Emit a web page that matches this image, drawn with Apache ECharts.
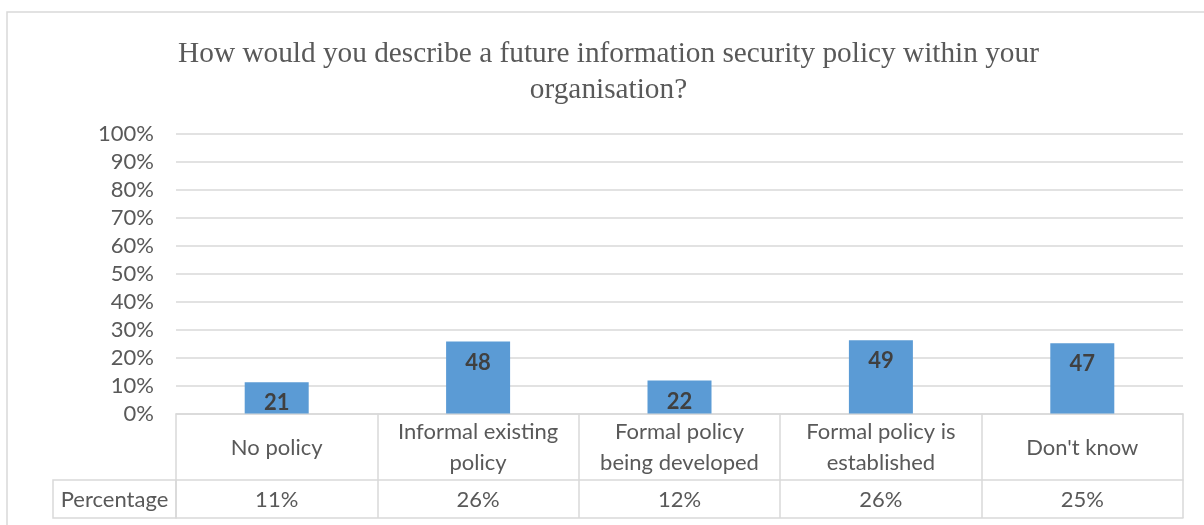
<!DOCTYPE html>
<html>
<head>
<meta charset="utf-8">
<script src="https://cdn.jsdelivr.net/npm/echarts@6/dist/echarts.min.js"></script>
<style>
html,body{margin:0;padding:0;background:#fff;}
#chart{width:1204px;height:525px;}
</style>
</head>
<body>
<div id="chart"></div>
<script>
const titleText = 'How would you describe a future information security policy within your\norganisation?';
const categories = ['No policy', 'Informal existing\npolicy', 'Formal policy\nbeing developed', 'Formal policy is\nestablished', "Don't know"];
const barValues = [11.2, 25.7, 11.8, 26.2, 25.1];
const counts = [21, 48, 22, 49, 47];
const tableLabels = ['11%', '26%', '12%', '26%', '25%'];
const rowHeader = 'Percentage';
const yTicks = [0, 10, 20, 30, 40, 50, 60, 70, 80, 90, 100];

const FONT = 'Lato, "Open Sans", sans-serif';
const GRID_L = 176, GRID_R = 21, GRID_T = 133.5, GRID_B = 111.5;
const ROW1 = 66.5, ROW2 = 38;
const LINE = '#d9d9d9';
const H = 525;
const axisBottom = H - GRID_B;

const chart = echarts.init(document.getElementById('chart'), null, {renderer: 'canvas'});
chart.setOption({
  animation: false,
  backgroundColor: '#fff',
  title: {
    text: titleText,
    left: 603.5, top: 31, textAlign: 'center',
    textStyle: {fontFamily: '"Liberation Serif", "Times New Roman", serif', fontSize: 29.3, fontWeight: 'normal', color: '#595959', lineHeight: 36}
  },
  grid: {left: GRID_L, right: GRID_R, top: GRID_T, bottom: GRID_B, containLabel: false},
  xAxis: [
    {
      type: 'category', data: categories, position: 'bottom',
      axisLine: {show: true, lineStyle: {color: LINE, width: 1.5}},
      axisTick: {show: true, length: ROW1 + ROW2, lineStyle: {color: LINE, width: 1.5}},
      axisLabel: {interval: 0, margin: 34, verticalAlign: 'middle', fontFamily: FONT, fontSize: 22, color: '#595959', lineHeight: 31}
    },
    {
      type: 'category', data: tableLabels, position: 'bottom', offset: ROW1,
      axisLine: {show: true, lineStyle: {color: LINE, width: 1.5}},
      axisTick: {show: false},
      axisLabel: {interval: 0, margin: 20, verticalAlign: 'middle', fontFamily: FONT, fontSize: 22, color: '#595959'}
    },
    {
      type: 'category', data: tableLabels, position: 'bottom', offset: ROW1 + ROW2,
      axisLine: {show: true, lineStyle: {color: LINE, width: 1.5}},
      axisTick: {show: false}, axisLabel: {show: false}
    }
  ],
  yAxis: {
    type: 'value', min: yTicks[0], max: yTicks[yTicks.length - 1], interval: yTicks[1] - yTicks[0],
    axisLine: {show: false}, axisTick: {show: false},
    axisLabel: {formatter: '{value}%', margin: 22, fontFamily: FONT, fontSize: 22, color: '#595959'},
    splitLine: {lineStyle: {color: LINE, width: 1.5}}
  },
  series: [{
    type: 'bar', xAxisIndex: 0, data: barValues, barWidth: 64,
    itemStyle: {color: '#5b9bd5'},
    label: {
      show: true, position: 'insideTop', distance: 10,
      formatter: p => String(counts[p.dataIndex]),
      fontFamily: FONT, fontSize: 22, fontWeight: 'bold', color: '#404040'
    }
  }],
  graphic: [
    {type: 'rect', silent: true, shape: {x: 7, y: 12, width: 1400, height: 700}, style: {fill: 'none', stroke: LINE, lineWidth: 1.5}},
    {type: 'rect', silent: true, shape: {x: 53, y: axisBottom + ROW1, width: GRID_L - 53, height: ROW2}, style: {fill: 'none', stroke: LINE, lineWidth: 1.5}},
    {type: 'text', silent: true, x: (53 + GRID_L) / 2, y: axisBottom + ROW1 + ROW2 / 2 + 1,
     style: {text: rowHeader, align: 'center', verticalAlign: 'middle', font: '22px ' + FONT, fill: '#595959'}}
  ]
});
</script>
</body>
</html>
